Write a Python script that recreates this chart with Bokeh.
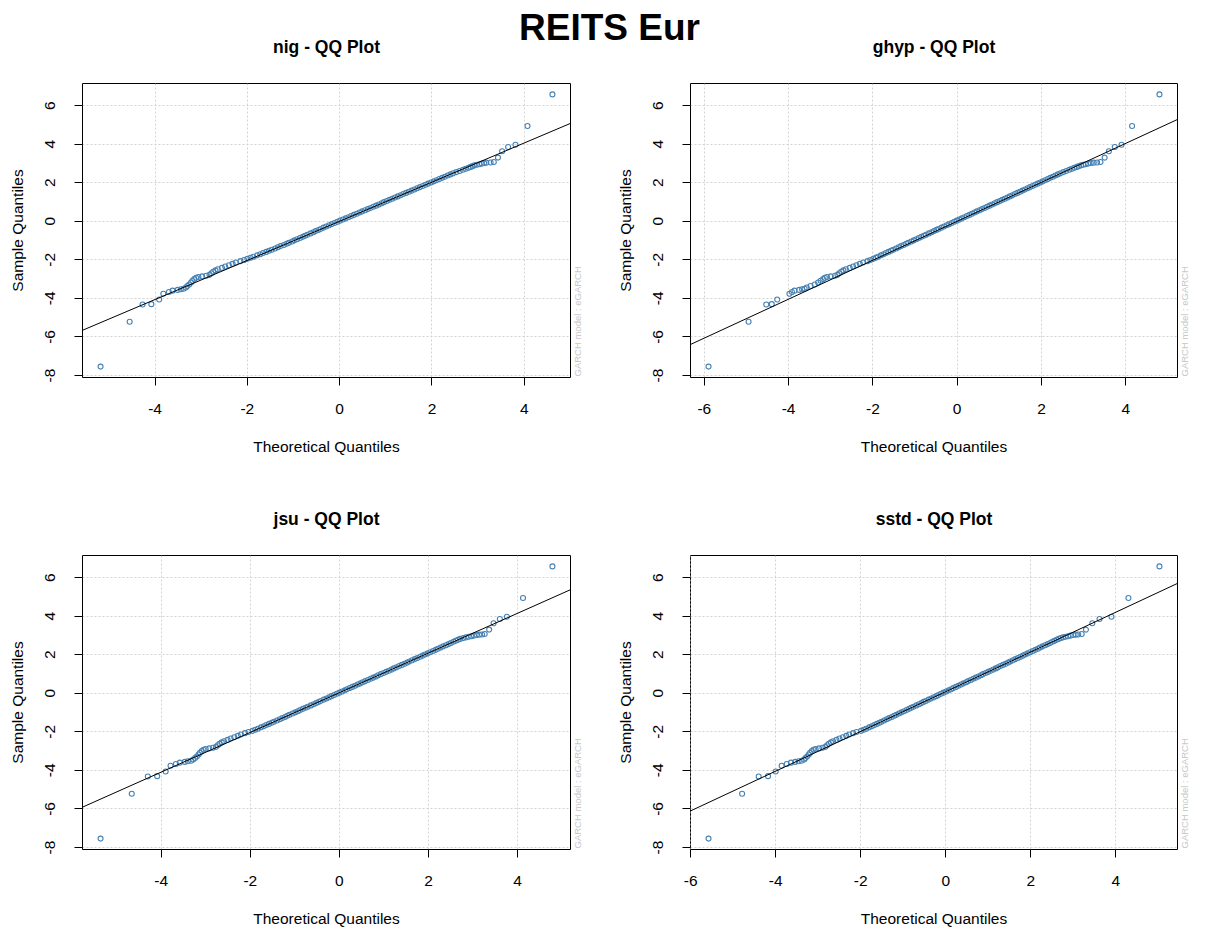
import math

from bokeh.embed import file_html
from bokeh.layouts import column, row
from bokeh.models import FixedTicker, Label, LinearAxis, NumeralTickFormatter, Range1d, Slope
from bokeh.plotting import figure
from bokeh.resources import INLINE

# Standardized residuals of the fitted model, sorted (sample quantiles).
sample_quantiles = [
    -7.54, -5.21, -4.32, -4.30, -4.06, -3.76, -3.67, -3.60, -3.56, -3.53, -3.50, -3.44,
    -3.36, -3.28, -3.18, -3.09, -3.00, -2.93, -2.89, -2.86, -2.83, -2.78,
    -2.70, -2.62, -2.55, -2.49, -2.42, -2.35, -2.28, -2.21, -2.14, -2.07, -2.01,
    -1.95, -1.89, -1.84, -1.77, -1.71, -1.65, -1.59, -1.53, -1.48, -1.41,
    -1.35, -1.29, -1.23, -1.17, -1.12, -1.05, -0.99, -0.93, -0.87, -0.81,
    -0.75, -0.70, -0.63, -0.57, -0.51, -0.45, -0.40, -0.33, -0.27, -0.21,
    -0.15, -0.09, -0.03, 0.03, 0.09, 0.15, 0.21, 0.27, 0.33, 0.39,
    0.45, 0.51, 0.57, 0.63, 0.69, 0.75, 0.81, 0.87, 0.93, 0.99,
    1.05, 1.11, 1.17, 1.23, 1.29, 1.35, 1.41, 1.47, 1.53, 1.59,
    1.65, 1.71, 1.77, 1.83, 1.89, 1.95, 2.01,
    2.07, 2.13, 2.19, 2.25, 2.31, 2.37, 2.43, 2.49, 2.55, 2.61,
    2.67, 2.72, 2.77, 2.82, 2.86, 2.90, 2.93, 2.96, 2.99,
    3.02, 3.04, 3.05, 3.07, 3.30, 3.63, 3.85, 3.97, 4.94, 6.58,
]

# Theoretical quantiles under each conditional distribution.
nig_quantiles = [
    -5.18, -4.55, -4.27, -4.08, -3.91, -3.82, -3.70, -3.62, -3.51, -3.44, -3.38, -3.33,
    -3.30, -3.26, -3.22, -3.19, -3.15, -3.11, -3.06, -2.98, -2.89, -2.82,
    -2.78, -2.74, -2.69, -2.64, -2.55, -2.48, -2.40, -2.32, -2.25, -2.15, -2.07,
    -2.00, -1.93, -1.87, -1.79, -1.72, -1.66, -1.59, -1.53, -1.47, -1.40,
    -1.34, -1.28, -1.21, -1.15, -1.10, -1.03, -0.98, -0.92, -0.86, -0.80,
    -0.75, -0.70, -0.63, -0.57, -0.52, -0.46, -0.41, -0.35, -0.29, -0.23,
    -0.17, -0.11, -0.05, 0.01, 0.07, 0.13, 0.19, 0.25, 0.31, 0.37,
    0.43, 0.49, 0.55, 0.61, 0.67, 0.73, 0.79, 0.85, 0.91, 0.96,
    1.02, 1.08, 1.14, 1.20, 1.26, 1.32, 1.38, 1.44, 1.50, 1.56,
    1.62, 1.68, 1.74, 1.80, 1.86, 1.92, 1.98,
    2.04, 2.10, 2.16, 2.22, 2.28, 2.34, 2.40, 2.46, 2.53, 2.60,
    2.67, 2.73, 2.79, 2.84, 2.88, 2.92, 2.97, 3.03, 3.08,
    3.13, 3.18, 3.27, 3.34, 3.43, 3.52, 3.65, 3.81, 4.07, 4.61,
]

ghyp_quantiles = [
    -5.90, -4.95, -4.53, -4.40, -4.27, -3.98, -3.92, -3.86, -3.75, -3.68, -3.62, -3.57,
    -3.48, -3.38, -3.30, -3.24, -3.18, -3.14, -3.09, -3.00, -2.90, -2.84,
    -2.80, -2.75, -2.70, -2.64, -2.55, -2.47, -2.39, -2.31, -2.23, -2.13, -2.06,
    -1.99, -1.93, -1.88, -1.81, -1.75, -1.69, -1.63, -1.57, -1.52, -1.45,
    -1.39, -1.33, -1.27, -1.21, -1.16, -1.09, -1.03, -0.97, -0.91, -0.85,
    -0.79, -0.74, -0.67, -0.61, -0.55, -0.49, -0.44, -0.37, -0.31, -0.25,
    -0.19, -0.13, -0.07, -0.01, 0.05, 0.11, 0.17, 0.23, 0.29, 0.35,
    0.41, 0.47, 0.53, 0.59, 0.65, 0.71, 0.77, 0.83, 0.89, 0.95,
    1.01, 1.07, 1.13, 1.19, 1.25, 1.31, 1.37, 1.43, 1.49, 1.55,
    1.61, 1.67, 1.73, 1.79, 1.85, 1.91, 1.97,
    2.03, 2.09, 2.15, 2.21, 2.27, 2.33, 2.39, 2.45, 2.52, 2.59,
    2.66, 2.72, 2.78, 2.84, 2.89, 2.94, 2.99, 3.05, 3.11,
    3.17, 3.24, 3.32, 3.40, 3.50, 3.60, 3.74, 3.90, 4.15, 4.80,
]

jsu_quantiles = [
    -5.36, -4.66, -4.30, -4.09, -3.90, -3.79, -3.67, -3.58, -3.47, -3.40, -3.33, -3.28,
    -3.24, -3.20, -3.16, -3.13, -3.09, -3.05, -3.00, -2.92, -2.84, -2.77,
    -2.73, -2.69, -2.64, -2.59, -2.51, -2.44, -2.36, -2.28, -2.21, -2.12, -2.04,
    -1.95, -1.89, -1.83, -1.76, -1.70, -1.64, -1.58, -1.52, -1.47, -1.40,
    -1.34, -1.28, -1.22, -1.17, -1.12, -1.05, -0.99, -0.93, -0.88, -0.82,
    -0.76, -0.71, -0.64, -0.58, -0.52, -0.47, -0.42, -0.35, -0.29, -0.23,
    -0.18, -0.12, -0.06, 0.00, 0.06, 0.12, 0.17, 0.23, 0.29, 0.35,
    0.41, 0.47, 0.52, 0.58, 0.64, 0.70, 0.76, 0.82, 0.87, 0.93,
    0.99, 1.05, 1.11, 1.17, 1.22, 1.28, 1.34, 1.40, 1.46, 1.52,
    1.57, 1.63, 1.69, 1.75, 1.81, 1.87, 1.92,
    1.98, 2.04, 2.10, 2.16, 2.21, 2.27, 2.33, 2.39, 2.45, 2.50,
    2.56, 2.61, 2.66, 2.71, 2.78, 2.84, 2.90, 2.96, 3.02,
    3.08, 3.14, 3.20, 3.26, 3.36, 3.46, 3.60, 3.76, 4.12, 4.78,
]

sstd_quantiles = [
    -5.58, -4.79, -4.40, -4.18, -4.00, -3.86, -3.74, -3.64, -3.54, -3.46, -3.39, -3.33,
    -3.30, -3.26, -3.22, -3.19, -3.15, -3.11, -3.06, -2.98, -2.90, -2.83,
    -2.79, -2.75, -2.70, -2.65, -2.57, -2.50, -2.42, -2.34, -2.27, -2.18, -2.10,
    -1.99, -1.93, -1.87, -1.80, -1.74, -1.68, -1.62, -1.56, -1.51, -1.45,
    -1.39, -1.33, -1.27, -1.21, -1.16, -1.10, -1.04, -0.98, -0.92, -0.86,
    -0.81, -0.76, -0.69, -0.63, -0.57, -0.52, -0.47, -0.40, -0.34, -0.28,
    -0.22, -0.17, -0.11, -0.05, 0.01, 0.07, 0.13, 0.18, 0.24, 0.30,
    0.36, 0.42, 0.48, 0.53, 0.59, 0.65, 0.71, 0.77, 0.83, 0.88,
    0.94, 1.00, 1.06, 1.12, 1.18, 1.23, 1.29, 1.35, 1.41, 1.47,
    1.52, 1.58, 1.64, 1.70, 1.76, 1.82, 1.87,
    1.93, 1.99, 2.05, 2.11, 2.17, 2.22, 2.28, 2.34, 2.40, 2.46,
    2.51, 2.56, 2.61, 2.66, 2.71, 2.76, 2.82, 2.88, 2.94,
    3.00, 3.06, 3.12, 3.20, 3.30, 3.45, 3.62, 3.90, 4.30, 5.03,
]

dist_names = ["nig", "ghyp", "jsu", "sstd"]
line_intercepts = [0.0, 0.0, 0.03, 0.08]
line_slopes = [1.015, 1.01, 1.03, 1.03]
tick_values = [-8, -6, -4, -2, 0, 2, 4, 6, 8]
main_title = "REITS Eur"
side_note = "GARCH model : eGARCH"

FONT = "Liberation Sans"
PAGE_W = 1208
FRAME_H = 294
LEFT_FRAME_W, RIGHT_FRAME_W = 488, 487
PANEL_CENTERS = [326, 933.5]          # horizontal centre of the left / right frames
HEADER_H, STRIP_H = 60, 74


def padded(vals):
    lo, hi = min(vals), max(vals)
    pad = 0.04 * (hi - lo)
    return lo - pad, hi + pad


def text_strip(height):
    s = figure(
        frame_width=PAGE_W, frame_height=height, title=None,
        x_range=Range1d(0, PAGE_W), y_range=Range1d(0, height),
        min_border=0, x_axis_location=None, y_axis_location=None,
        output_backend="svg", toolbar_location=None,
    )
    s.outline_line_color = None
    s.background_fill_color = "white"
    s.border_fill_color = "white"
    s.grid.visible = False
    return s


def add_text(strip, x, y_mid, text, size, bold=True):
    strip.add_layout(Label(
        x=x, y=y_mid, text=text, text_align="center", text_baseline="middle",
        text_font=FONT, text_font_style="bold" if bold else "normal",
        text_font_size=size, text_color="black",
    ))


def qq_panel(theo, a, b, frame_w, left, right, top, bottom):
    assert len(theo) == len(sample_quantiles)
    x0, x1 = padded(theo)
    y0, y1 = padded(sample_quantiles)
    p = figure(
        frame_width=frame_w, frame_height=FRAME_H, title=None,
        x_range=Range1d(x0, x1), y_range=Range1d(y0, y1),
        min_border_left=left, min_border_right=right,
        min_border_top=top, min_border_bottom=bottom,
        output_backend="svg", toolbar_location=None,
    )
    p.background_fill_color = "white"
    p.border_fill_color = "white"
    p.outline_line_color = "black"
    p.outline_line_width = 1
    p.outline_line_alpha = 1.0

    for ax in (p.xaxis, p.yaxis):
        ax.ticker = FixedTicker(ticks=tick_values)
        ax.formatter = NumeralTickFormatter(format="0")
        ax.axis_line_color = None
        ax.major_tick_line_color = "black"
        ax.major_tick_in = 0
        ax.major_tick_out = 8
        ax.minor_tick_line_color = None
        ax.major_label_text_font = FONT
        ax.major_label_text_font_size = "15.5px"
        ax.major_label_text_color = "black"
        ax.axis_label_text_font = FONT
        ax.axis_label_text_font_size = "15.5px"
        ax.axis_label_text_font_style = "normal"
        ax.axis_label_text_color = "black"

    p.xaxis.axis_label = "Theoretical Quantiles"
    p.xaxis.major_label_standoff = 18
    p.xaxis.axis_label_standoff = 21
    p.yaxis.axis_label = "Sample Quantiles"
    p.yaxis.major_label_orientation = "vertical"
    p.yaxis.major_label_standoff = 19
    p.yaxis.axis_label_standoff = 17

    p.xgrid.ticker = FixedTicker(ticks=tick_values)
    p.ygrid.ticker = FixedTicker(ticks=tick_values)
    p.grid.grid_line_color = "#d3d3d3"
    p.grid.grid_line_dash = "2 2"
    p.grid.grid_line_width = 1

    p.scatter(x=theo, y=sample_quantiles, marker="circle", size=5,
              fill_color=None, line_color="steelblue", line_width=1.1)
    p.add_layout(Slope(gradient=b, y_intercept=a, line_color="black", line_width=1))

    # Faint model note running up the right edge from the bottom of the frame.
    ppu_y = FRAME_H / (y1 - y0)
    note_at = y0 + 1.0 / ppu_y
    note_axis = LinearAxis(
        ticker=FixedTicker(ticks=[note_at]),
        major_label_overrides={note_at: side_note},
        major_label_orientation=math.pi / 2,
        axis_line_color=None, major_tick_line_color=None, minor_tick_line_color=None,
        major_tick_in=0, major_tick_out=0, major_label_standoff=7,
        major_label_text_font=FONT, major_label_text_font_size="9.5px",
        major_label_text_color="#c8c8c8",
    )
    p.add_layout(note_axis, "right")
    return p


# Page header: overall title plus the titles of the upper panels.
header = text_strip(HEADER_H)
add_text(header, PAGE_W / 2 + 5, HEADER_H - 26.5, main_title, "37px")
add_text(header, PANEL_CENTERS[0], HEADER_H - 46.6, f"{dist_names[0]} - QQ Plot", "17.5px")
add_text(header, PANEL_CENTERS[1], HEADER_H - 46.6, f"{dist_names[1]} - QQ Plot", "17.5px")

# Strip between the rows with the titles of the lower panels.
strip = text_strip(STRIP_H)
add_text(strip, PANEL_CENTERS[0], STRIP_H - (518.6 - 466), f"{dist_names[2]} - QQ Plot", "17.5px")
add_text(strip, PANEL_CENTERS[1], STRIP_H - (518.6 - 466), f"{dist_names[3]} - QQ Plot", "17.5px")

quantile_sets = [nig_quantiles, ghyp_quantiles, jsu_quantiles, sstd_quantiles]
panels = []
for i, theo in enumerate(quantile_sets):
    is_left = i % 2 == 0
    is_top = i < 2
    panels.append(qq_panel(
        theo, line_intercepts[i], line_slopes[i],
        frame_w=LEFT_FRAME_W if is_left else RIGHT_FRAME_W,
        left=82 if is_left else 86,
        right=34 if is_left else 31,
        top=(83 - HEADER_H) if is_top else (555 - 466 - STRIP_H),
        bottom=89 if is_top else 83,
    ))

layout = column(
    header,
    row(panels[0], panels[1]),
    strip,
    row(panels[2], panels[3]),
)

with open("out.html", "w") as f:
    f.write(file_html(layout, INLINE, title=main_title))
